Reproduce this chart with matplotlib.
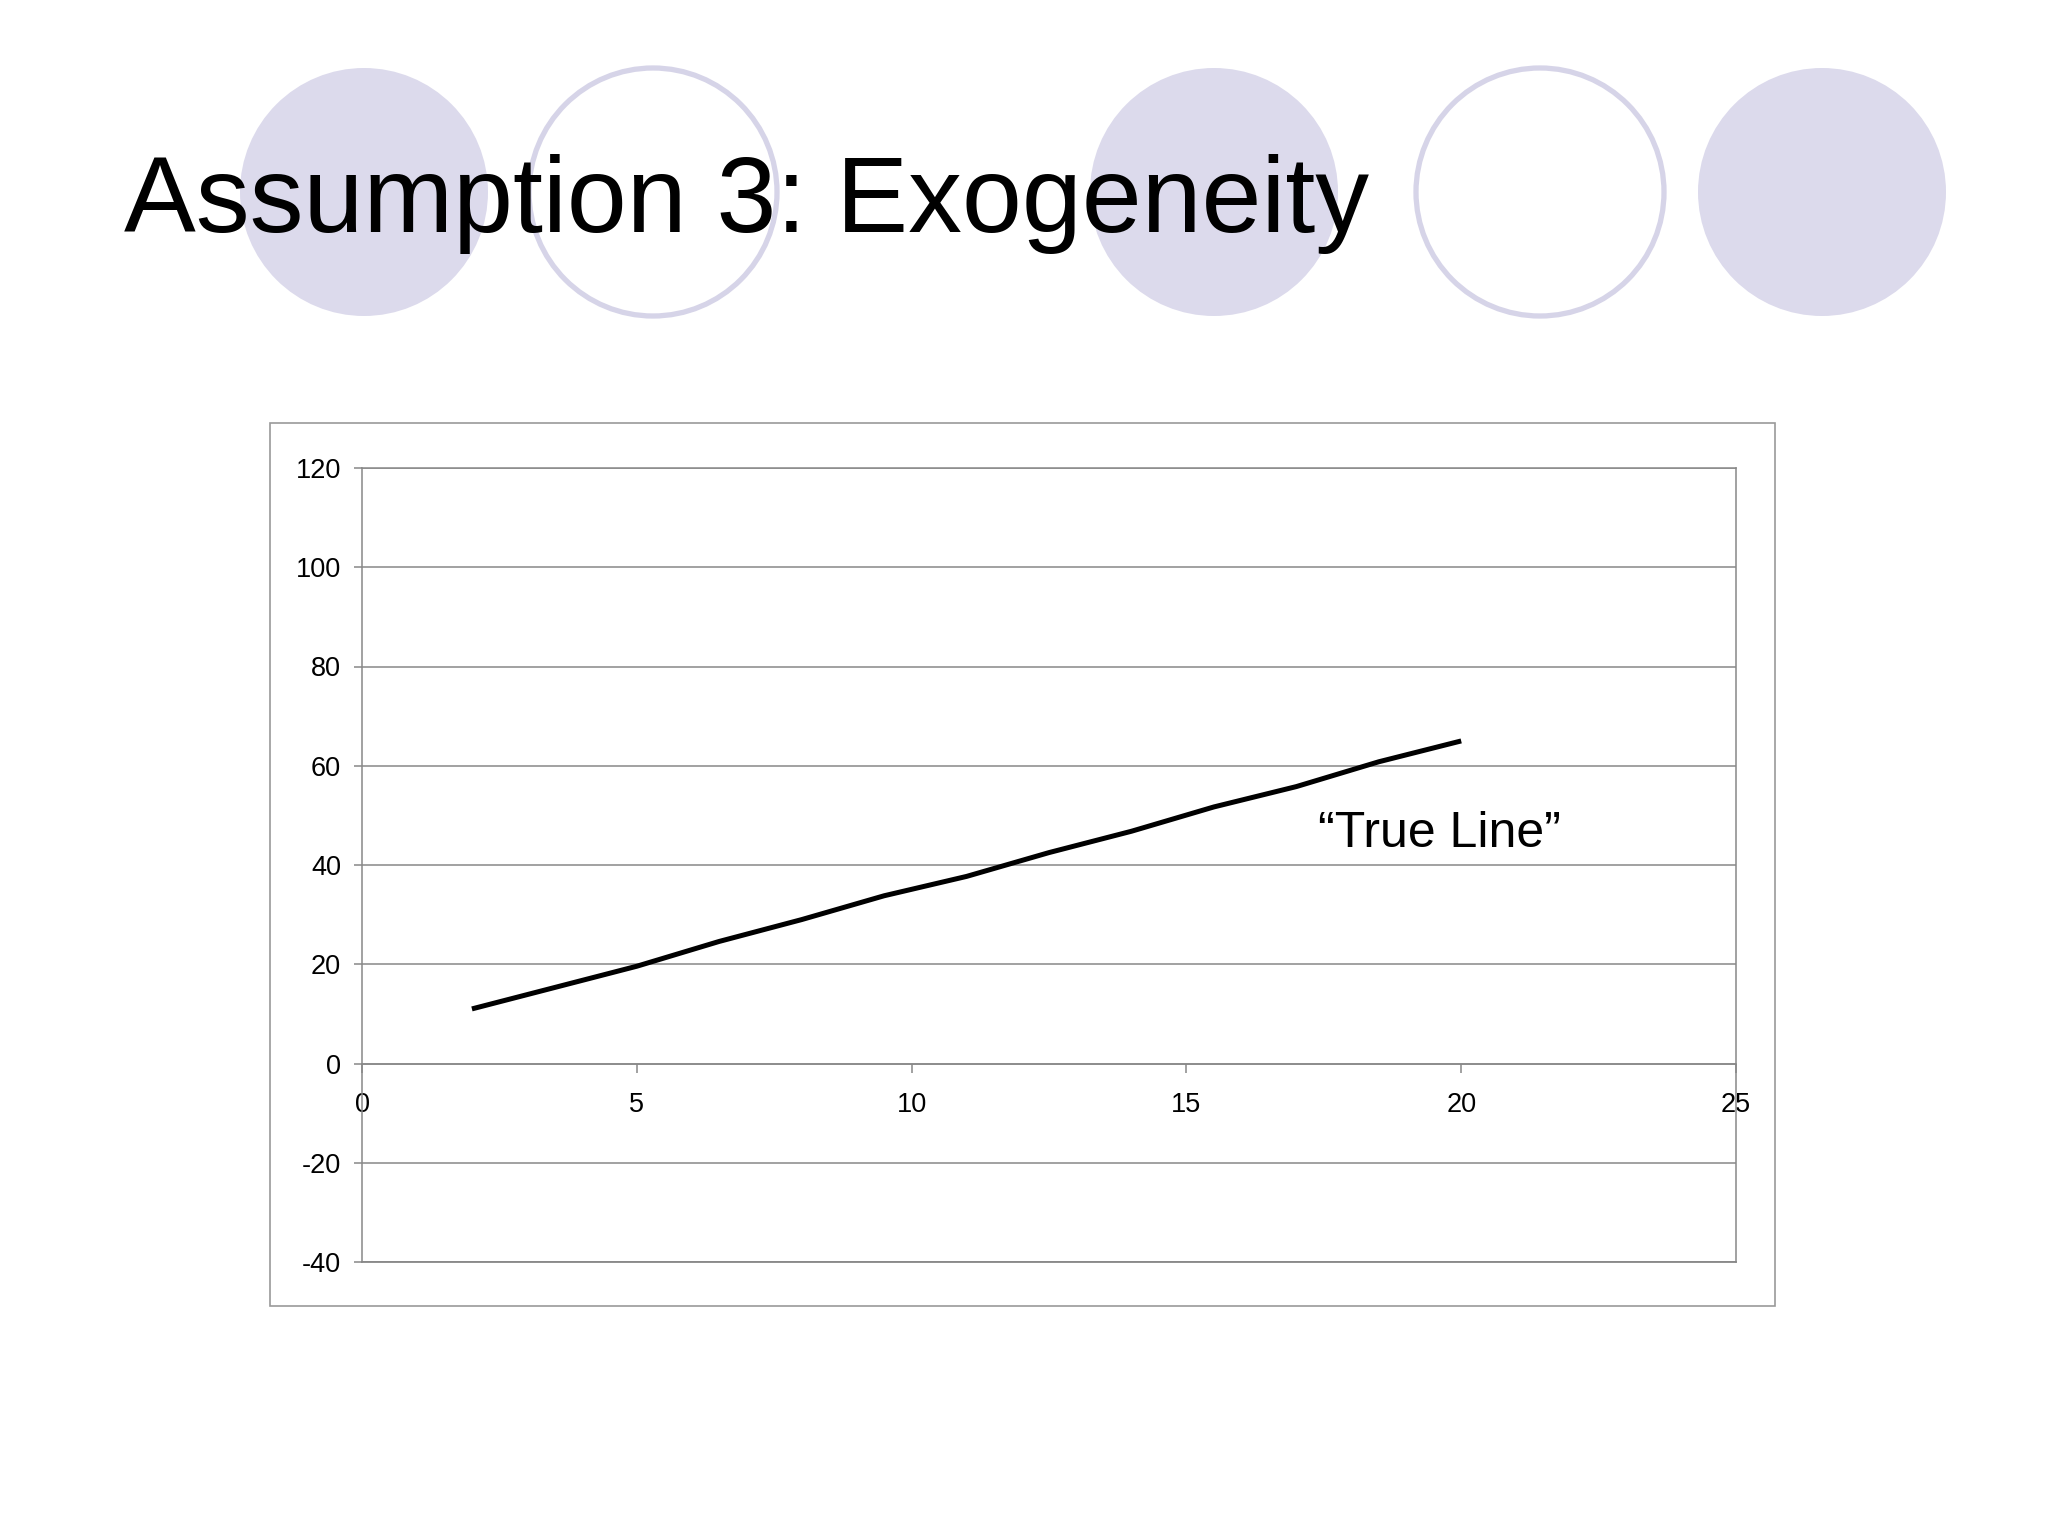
import matplotlib
matplotlib.use("Agg")
import matplotlib.pyplot as plt
from matplotlib.patches import Circle, Rectangle

plt.rcParams['font.family'] = ['Liberation Sans', 'DejaVu Sans']
plt.rcParams['axes.unicode_minus'] = False

# data
x_vals = [2, 3.5, 5, 6.5, 8, 9.5, 11, 12.5, 14, 15.5, 17, 18.5, 20]
y_vals = [11, 15.3, 19.6, 24.6, 29, 33.8, 37.7, 42.5, 46.8, 51.7, 55.8, 60.8, 65]
x_ticks = [0, 5, 10, 15, 20, 25]
y_ticks = [-40, -20, 0, 20, 40, 60, 80, 100, 120]
title = "Assumption 3: Exogeneity"
line_label = "\u201cTrue Line\u201d"

W, H = 2048, 1536
fig = plt.figure(figsize=(W / 100, H / 100), dpi=100)
fig.patch.set_facecolor('white')

# decorative circles of the slide template (pixel coordinates)
bg = fig.add_axes([0, 0, 1, 1])
bg.set_xlim(0, W)
bg.set_ylim(H, 0)
bg.axis('off')
lav = '#dcdaec'
for cx, filled in [(364, True), (653, False), (1214, True), (1540, False), (1822, True)]:
    if filled:
        bg.add_patch(Circle((cx, 192), 124, facecolor=lav, edgecolor='none'))
    else:
        bg.add_patch(Circle((cx, 192), 124, facecolor='none', edgecolor='#d6d4e8', linewidth=3.8))

# chart frame
bg.add_patch(Rectangle((270, 423), 1505, 883, facecolor='white', edgecolor='#9a9a9a', linewidth=1.2))

fig.text(124 / W, 1 - 232 / H, title, fontsize=77.5, color='black', ha='left', va='baseline')

grey = '#888888'
ax = fig.add_axes([362 / W, 1 - 1262 / H, (1736 - 362) / W, (1262 - 468) / H])
ax.plot(x_vals, y_vals, color='black', linewidth=3.6, solid_capstyle='butt', zorder=3)
ax.text(17.39, 43.7, line_label, fontsize=36, ha='left', va='baseline')

ax.set_xlim(0, 25)
ax.set_ylim(-40, 120)
ax.set_xticks(x_ticks)
ax.set_yticks(y_ticks)
ax.yaxis.grid(True, color=grey, linewidth=1.1)
ax.set_axisbelow(True)
# plot-area border along the bottom (the x axis itself sits at y = 0)
ax.axhline(-40, color=grey, linewidth=1.3, clip_on=False)

for s in ax.spines.values():
    s.set_color(grey)
    s.set_linewidth(1.1)
ax.spines['bottom'].set_position(('data', 0))

ax.tick_params(axis='y', direction='out', length=6, width=1.1, color=grey, pad=9,
               labelsize=19.5)
ax.tick_params(axis='x', direction='out', length=6.3, width=1.1, color=grey, pad=14,
               labelsize=19.5)

fig.savefig('out.png', dpi=100, facecolor='white')
